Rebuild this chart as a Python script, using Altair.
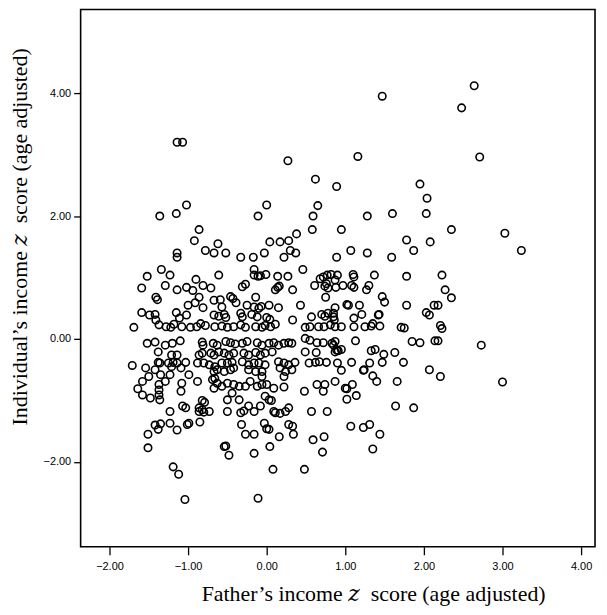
import altair as alt
import pandas as pd

# Father's income z score (x) and individual's income z score (y)
father = [
    # upper outliers
    -1.14, -1.07, 0.27, 0.62, 0.89, 1.16, 1.47, 1.95,
    2.64, 2.48, 2.71, 2.35, 3.03, 3.24, 2.23, 2.27, 2.35, 2.18, 2.21, 2.23, 2.18, 2.73, 2.21, 3.00,
    # left upper block
    -1.02, -1.36, -1.15, -0.86, -0.92, -0.62, -0.78, -0.67, -1.14, -1.14, -1.34, -1.52, -1.23, -0.90, -0.61,
    -1.59, -1.29, -1.14, -1.02, -0.94, -0.81, -0.71, -1.41, -1.39, -0.86, -0.91, -1.00, -0.67, -0.81,
    -1.59, -1.49, -1.42, -1.41, -1.15, -1.02, -1.11, -0.67, -1.69, -1.37, -1.28, -1.22, -1.18, -1.08,
    -0.97, -0.89, -0.84, -0.78, -0.66,
    # middle upper block
    0.00, -0.11, 0.65, 0.59, 0.58, 0.38, 0.04, 0.17, 0.28, 0.30, 0.37, 0.22, -0.03, -0.52, -0.33, -0.17,
    0.46, -0.16, -0.16, -0.11, -0.08, -0.01, 0.14, 0.27, -0.31, -0.27, 0.11, 0.14, 0.16, 0.33, 0.61,
    0.68, 0.72, 0.77, 0.82, 0.74, 0.78, 0.76, 0.87, 0.75, -0.59, -0.46, -0.43, -0.14, -0.39, -0.25,
    -0.16, -0.10, -0.07, 0.03, 0.15, 0.43, -0.57, -0.61, -0.54, -0.52, -0.33, -0.31, -0.19, -0.12,
    0.00, 0.04, 0.33, 0.57, 0.70, 0.74, 0.78, -0.57, -0.50, -0.42, -0.33, -0.27, -0.14, -0.06, -0.02,
    0.05, 0.11, 0.49, 0.55, 0.66, 0.73, 0.81, 0.87,
    # right upper block
    2.04, 1.28, 1.60, 2.03, 0.95, 1.78, 2.08, 1.87, 1.07, 1.28, 0.89, 1.59, 1.78, 0.90, 1.10, 1.11,
    1.37, 0.97, 1.08, 1.11, 0.88, 1.30, 1.27, 1.47, 1.50, 1.02, 1.04, 1.18, 0.87, 1.78, 2.13, 1.21,
    1.11, 1.42, 1.43, 0.85, 0.85, 0.86, 2.03, 2.07, 1.35, 1.44, 1.33, 1.11, 1.25, 0.95, 1.71, 1.75,
    # left lower block
    -1.52, -1.42, -1.29, -1.20, -1.10, -1.38, -0.82, -0.81, -0.68, -0.86, -0.82, -0.71, -0.67, -1.21,
    -1.14, -1.71, -1.54, -1.42, -1.38, -1.36, -1.25, -1.19, -1.14, -1.03, -1.21, -1.09, -0.88, -0.80,
    -0.73, -0.66, -0.67, -0.66, -1.50, -1.58, -1.35, -1.23, -0.99, -0.88, -1.08, -1.09, -1.29, -1.64,
    -1.58, -1.48, -1.37, -1.37, -1.37, -1.36, -0.67, -1.23, -1.07, -1.03, -0.82, -0.79, -0.86, -0.82,
    -0.86, -0.80, -0.73, -0.85, -1.42, -1.35, -1.38, -1.23, -1.14, -1.01, -0.99, -1.51, -1.51, -1.19,
    -1.12, -1.04,
    # middle lower block
    -0.63, -0.52, -0.46, -0.40, -0.31, -0.25, -0.12, -0.06, 0.03, 0.09, 0.15, 0.22, 0.28, 0.32,
    0.49, 0.55, 0.64, 0.72, 0.49, 0.63, -0.61, -0.54, -0.48, -0.42, -0.29, -0.23, -0.14, -0.08,
    -0.02, 0.07, -0.57, -0.50, -0.44, -0.31, -0.23, -0.16, -0.10, -0.02, 0.15, 0.22, 0.28, 0.36,
    0.54, 0.62, 0.67, 0.76, 0.90, -0.63, -0.54, -0.46, -0.42, -0.23, -0.14, -0.06, 0.17, 0.24, 0.32,
    0.22, -0.06, -0.69, -0.63, -0.57, -0.50, -0.42, -0.35, -0.27, -0.21, -0.12, -0.06, 0.00, 0.09,
    0.22, -0.44, -0.35, -0.50, -0.02, 0.03, 0.06, 0.48, 0.64, 0.74, 0.72, 0.87, -0.50, -0.33, -0.29,
    -0.16, -0.08, -0.23, 0.09, 0.11, 0.17, 0.24, 0.28, 0.57, 0.77, -0.32, -0.03, 0.00, 0.03, 0.28,
    0.33, -0.27, -0.16, 0.16, 0.34, 0.59, 0.73, -0.54, -0.52, -0.48, -0.16, 0.04, 0.71, 0.08, 0.48,
    -0.11,
    # right lower block
    0.87, 0.83, 0.85, 0.89, 0.91, 0.95, 0.87, 1.13, 1.85, 1.95, 2.14, 1.33, 1.38, 1.49, 1.63, 1.74,
    1.08, 0.95, 1.23, 1.24, 1.31, 1.47, 2.07, 1.00, 1.02, 1.09, 1.35, 1.40, 1.66, 1.02, 1.14, 1.64,
    1.87, 1.07, 1.23, 1.31, 1.44, 1.35,
]

individual = [
    # upper outliers
    3.20, 3.20, 2.90, 2.60, 2.48, 2.97, 3.95, 2.52,
    4.12, 3.76, 2.96, 1.78, 1.72, 1.44, 1.04, 0.80, 0.67, 0.55, 0.22, 0.17, -0.03, -0.10, -0.61, -0.70,
    # left upper block
    2.18, 2.00, 2.04, 1.78, 1.60, 1.55, 1.44, 1.40, 1.40, 1.33, 1.13, 1.02, 1.04, 0.97, 1.04,
    0.83, 0.87, 0.80, 0.84, 0.79, 0.87, 0.83, 0.68, 0.64, 0.68, 0.59, 0.55, 0.63, 0.51,
    0.43, 0.39, 0.40, 0.31, 0.43, 0.39, 0.34, 0.39, 0.19, 0.23, 0.20, 0.19, 0.24, 0.20,
    0.19, 0.20, 0.25, 0.22, 0.20,
    # middle upper block
    2.18, 2.00, 2.17, 2.00, 1.78, 1.71, 1.58, 1.58, 1.60, 1.44, 1.40, 1.33, 1.40, 1.40, 1.33, 1.33,
    1.13, 1.13, 1.04, 1.02, 1.03, 1.05, 1.02, 1.02, 0.85, 0.89, 0.80, 0.84, 0.86, 0.80, 0.87,
    0.98, 1.01, 1.04, 1.05, 0.86, 0.83, 0.90, 0.96, 0.68, 0.64, 0.69, 0.66, 0.68, 0.59, 0.55,
    0.52, 0.50, 0.53, 0.55, 0.51, 0.55, 0.52, 0.37, 0.40, 0.35, 0.42, 0.36, 0.40, 0.36,
    0.35, 0.32, 0.31, 0.36, 0.40, 0.37, 0.42, 0.21, 0.19, 0.20, 0.23, 0.19, 0.20, 0.19, 0.22,
    0.20, 0.24, 0.19, 0.20, 0.20, 0.20, 0.23, 0.20,
    # right upper block
    2.29, 2.00, 2.04, 2.04, 1.78, 1.61, 1.58, 1.44, 1.44, 1.40, 1.33, 1.33, 1.02, 1.04, 1.05, 1.01,
    1.04, 0.87, 0.87, 0.84, 0.84, 0.87, 0.80, 0.69, 0.60, 0.56, 0.55, 0.55, 0.51, 0.55, 0.55, 0.40,
    0.34, 0.39, 0.40, 0.42, 0.36, 0.31, 0.43, 0.39, 0.25, 0.21, 0.21, 0.20, 0.20, 0.20, 0.19, 0.18,
    # left lower block
    -0.07, -0.05, -0.10, -0.07, -0.03, -0.21, -0.05, -0.10, -0.07, -0.26, -0.23, -0.23, -0.26, -0.26,
    -0.26, -0.43, -0.47, -0.50, -0.38, -0.39, -0.39, -0.38, -0.39, -0.38, -0.45, -0.47, -0.39, -0.39,
    -0.42, -0.45, -0.53, -0.64, -0.61, -0.69, -0.58, -0.58, -0.58, -0.69, -0.72, -0.85, -0.69, -0.81,
    -0.91, -0.96, -0.74, -0.83, -0.91, -0.99, -0.80, -1.18, -1.09, -1.12, -1.00, -1.03, -1.12, -1.15,
    -1.18, -1.19, -1.18, -1.35, -1.40, -1.38, -1.47, -1.37, -1.48, -1.39, -1.37, -1.55, -1.77, -2.08,
    -2.20, -2.61,
    # middle lower block
    -0.10, -0.04, -0.06, -0.08, -0.07, -0.04, -0.06, -0.10, -0.07, -0.06, -0.10, -0.07, -0.06, -0.07,
    0.01, -0.02, -0.06, -0.06, -0.21, -0.22, -0.21, -0.23, -0.26, -0.23, -0.23, -0.26, -0.22, -0.26,
    -0.23, -0.21, -0.39, -0.39, -0.38, -0.37, -0.42, -0.39, -0.39, -0.42, -0.37, -0.39, -0.42, -0.38,
    -0.39, -0.38, -0.37, -0.38, -0.39, -0.50, -0.53, -0.50, -0.47, -0.50, -0.53, -0.53, -0.47, -0.53, -0.50,
    -0.61, -0.61, -0.66, -0.72, -0.77, -0.72, -0.74, -0.77, -0.77, -0.69, -0.77, -0.74, -0.74, -0.80,
    -0.78, -0.88, -0.99, -0.99, -0.93, -0.99, -1.00, -0.85, -0.74, -0.74, -0.85, -0.69, -1.18, -1.20, -1.17,
    -1.18, -1.09, -1.09, -1.18, -1.20, -1.21, -1.18, -1.12, -1.18, -1.18, -1.39, -1.37, -1.46, -1.47, -1.39,
    -1.42, -1.55, -1.55, -1.59, -1.55, -1.64, -1.59, -1.75, -1.74, -1.89, -1.86, -1.75, -1.84, -2.12, -2.12,
    -2.59,
    # right lower block
    -0.04, -0.07, -0.10, -0.18, -0.19, -0.17, -0.21, -0.03, -0.04, -0.06, -0.03, -0.19, -0.17, -0.25, -0.22, -0.38,
    -0.38, -0.51, -0.51, -0.50, -0.39, -0.38, -0.50, -0.80, -0.81, -0.74, -0.60, -0.69, -0.69, -0.98, -0.92, -1.09,
    -1.12, -1.42, -1.44, -1.39, -1.55, -1.79,
]

x_ticks = [-2, -1, 0, 1, 2, 3, 4]
y_ticks = [-2, 0, 2, 4]

df = pd.DataFrame({"father": father, "individual": individual})

label_font = "Liberation Sans"
title_font = "Liberation Serif, DejaVu Serif"

chart = (
    alt.Chart(df)
    .mark_point(shape="circle", filled=False, color="black", strokeWidth=1.6, size=56, opacity=1)
    .encode(
        x=alt.X(
            "father:Q",
            scale=alt.Scale(domain=[-2.367, 4.177], nice=False, zero=False),
            axis=alt.Axis(
                values=x_ticks, format=".2f", grid=False, domain=False,
                tickSize=8, tickColor="black", tickWidth=1.3,
                labelFont=label_font, labelFontSize=11, labelColor="black", labelPadding=6,
                labelFlush=False,
                title="Father\u2019s income \U0001D467\u00a0 score (age adjusted)",
                titleFont=title_font, titleFontSize=22, titleFontWeight="normal", titleColor="black",
                titleX=294, titleY=47, titleAlign="center", titleBaseline="middle",
            ),
        ),
        y=alt.Y(
            "individual:Q",
            scale=alt.Scale(domain=[-3.38, 5.36], nice=False, zero=False),
            axis=alt.Axis(
                values=y_ticks, format=".2f", grid=False, domain=False,
                tickSize=7, tickColor="black", tickWidth=1.3,
                labelFont=label_font, labelFontSize=11, labelColor="black", labelPadding=3,
                labelFlush=False,
                title="Individual\u2019s income \U0001D467\u00a0 score (age adjusted)",
                titleFont=title_font, titleFontSize=22, titleFontWeight="normal", titleColor="black",
                titleX=-61, titleY=228, titleAngle=270, titleAlign="center", titleBaseline="middle",
            ),
        ),
    )
    .properties(
        width=517,
        height=540,
        autosize=alt.AutoSizeParams(type="none"),
        padding={"left": 73, "top": 0, "right": 4, "bottom": 58},
    )
    .configure_view(stroke="black", strokeWidth=1.6)
)

chart.save("out.html", embed_options={"renderer": "svg", "actions": False})
